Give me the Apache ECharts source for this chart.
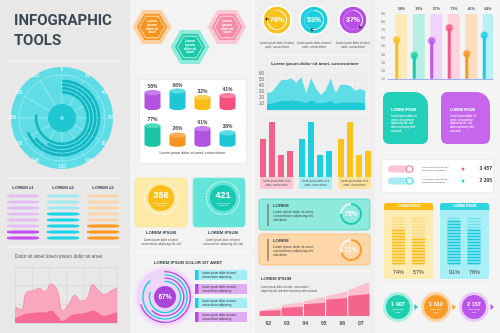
<!DOCTYPE html>
<html><head><meta charset="utf-8">
<script src="https://cdn.jsdelivr.net/npm/echarts@6/dist/echarts.min.js"></script>
<style>html,body{margin:0;padding:0;background:#efefef}#c{width:500px;height:333px}</style>
</head><body><div id="c"></div>
<script>
// ---------------- DATA ----------------
const polarAngleMax = 240;                         // angle axis 0..240 step 20
const polarArcValues = [185, 140, 155, 165];       // inner -> outer arcs
const rowLabels = ['LOREM #1', 'LOREM #2', 'LOREM #3'];
const rowTotal = 8;
const rowFilled = [2, 5, 3];
const pinkAreaTop = [29, 24, 55, 57, 61, 56, 69, 59, 22, 35, 49, 39, 44, 68, 56, 51, 57, 62];
const pinkAreaBottom = [8, 12, 16, 17, 18, 18, 21, 12, 3, 10, 15, 16, 18, 21, 16, 12, 15, 18];
const cylRow1 = [58, 66, 32, 41];
const cylRow2 = [77, 26, 61, 38];
const statValues = [356, 421];
const donutValue = 67;
const donutArcs = [80, 62, 88, 70];                // inner -> outer decorative arcs
const progressValues = [76, 53, 37];
const cyanAreaTop = [28, 30, 40, 50, 50, 53, 45, 55, 28, 53, 36, 25, 33, 53, 28, 42, 42, 40, 32, 35, 32];
const cyanAreaBottom = [10, 11, 13, 15, 15, 16, 15, 14, 11, 16, 12, 11, 12, 15, 10, 12, 13, 12, 12, 12, 11];
const cyanTicks = [10, 20, 30, 40, 50, 60];
const groupBars = [[38, 55, 22, 26], [38, 55, 22, 26], [38, 55, 22, 26]];
const cardPercents = [75, 71];
const rampLabels = ['02', '03', '04', '05', '06', '07'];
const rampLightLeft = [5.7, 10.7, 14.7, 19.7, 25.7];
const rampLightRight = [8, 14, 19, 24.7, 34];
const rampDarkLeft = [4.7, 8, 11.7, 16.3, 20];
const rampDarkRight = [5.7, 9.3, 13.3, 18, 22];
const lollipopValues = [58, 39, 57, 73, 41, 64];
const toggleValues = ['3 457', '2 305'];
const stackPercents = [[74, 57], [91, 78]];
const stepValues = ['1 407', '1 812', '2 157'];

// ---------------- HELPERS ----------------
const F = '"Liberation Sans", Arial, sans-serif';
const G = [];
function rect(x, y, w, h, fill, r, z, stroke) {
  G.push({type: 'rect', silent: true, z: z == null ? -10 : z, shape: {x, y, width: w, height: h, r: r || 0},
    style: {fill, stroke: stroke || null, lineWidth: stroke ? 0.7 : 0}});
}
function circ(cx, cy, r, style, z) { G.push({type: 'circle', silent: true, z: z == null ? -10 : z, shape: {cx, cy, r}, style}); }
function txt(x, y, text, size, fill, weight, align, font) {
  G.push({type: 'text', silent: true, z: 100, x, y,
    style: {text, fill, font: (weight || 'normal') + ' ' + size + 'px ' + (font || F), align: align || 'left', verticalAlign: 'middle'}});
}
function hline(x1, x2, y, c) { G.push({type: 'line', silent: true, z: -9, shape: {x1, y1: y, x2, y2: y}, style: {stroke: c || '#fafafa', lineWidth: 1}}); }
function hexPts(cx, cy, R) { const p = []; for (let k = 0; k < 6; k++) { const a = k * Math.PI / 3; p.push([cx + R * Math.cos(a), cy + R * Math.sin(a)]); } return p; }
function poly(points, style, z) { G.push({type: 'polygon', silent: true, z: z == null ? -10 : z, shape: {points}, style}); }

// ---------------- BACKGROUNDS ----------------
rect(0, 0, 130, 333, '#e8e8e8', 0, -20);
rect(130, 0, 125, 333, '#f3f3f3', 0, -20);
rect(255, 0, 120, 333, '#efefef', 0, -20);
rect(375, 0, 125, 333, '#f4f4f4', 0, -20);
hline(8, 122, 61); hline(8, 122, 178); hline(8, 122, 247);
hline(135, 250, 72); hline(135, 250, 168); hline(135, 250, 252);
hline(260, 370, 55); hline(260, 370, 114); hline(260, 370, 271);
hline(380, 495, 88); hline(380, 495, 152); hline(380, 495, 196); hline(380, 495, 287);

// ---------------- COLUMN 1 ----------------
txt(14, 21, 'INFOGRAPHIC', 15, '#3c4850', 'bold', 'left', 'Roboto');
txt(14, 41, 'TOOLS', 15, '#3c4850', 'bold', 'left', 'Roboto');
const PC = [62, 118];
circ(PC[0], PC[1], 51, {fill: '#5edde6'}, -10);
circ(PC[0], PC[1], 43, {fill: 'none', stroke: 'rgba(255,255,255,0.55)', lineWidth: 0.6}, -8);
circ(PC[0], PC[1], 14, {fill: '#1ec7d2'}, 10);
circ(PC[0], PC[1], 2, {fill: '#6ae8ef'}, 11);
rowLabels.forEach((l, i) => txt(23 + 40 * i, 188, l, 4.3, '#3c4850', 'bold', 'center'));
txt(15, 257, 'Dolor sit amet lorem ipsum dolor sit amet', 4.8, '#555');

// ---------------- COLUMN 2 ----------------
const hexes = [
  {c: [152, 27], outer: '#fdd0a0', inner: '#f7941d'},
  {c: [190, 47], outer: '#8feadc', inner: '#1cc9a9'},
  {c: [227, 27], outer: '#fdc8d6', inner: '#f589a6'}
];
hexes.forEach(h => {
  poly(hexPts(h.c[0], h.c[1], 19.5), {fill: h.outer});
  poly(hexPts(h.c[0], h.c[1], 15), {fill: h.inner});
  poly(hexPts(h.c[0], h.c[1], 12.5), {fill: 'none', stroke: '#fff', lineWidth: 0.7}, -9);
  ['Lorem', 'ipsum', 'dolor sit', 'amet'].forEach((t, k) => txt(h.c[0], h.c[1] - 5.4 + k * 3.6, t, 3.2, '#fff', 'bold', 'center'));
});
G.push({type: 'rect', silent: true, z: -12, shape: {x: 140, y: 80, width: 106, height: 83, r: 3}, style: {fill: '#fff', shadowBlur: 3, shadowColor: 'rgba(0,0,0,0.08)'}});
txt(192.5, 153, 'Lorem ipsum dolor sit amet, consectetuer', 3.6, '#444', 'normal', 'center');

const statCards = [
  {x: 135, bg: '#fdeaa9', st: '#fde196', dot: '#fbbf1a', c: [161, 198]},
  {x: 193, bg: '#62e4d8', st: '#7fe9de', dot: '#18c9b4', c: [223, 198]}
];
statCards.forEach((s, i) => {
  rect(s.x, 178, 52, 49, s.bg, 3, -10, s.st);
  circ(s.c[0], s.c[1], 16.5, {fill: 'none', stroke: 'rgba(255,255,255,0.9)', lineWidth: 1.2, lineDash: [0.8, 0.8]}, -9);
  circ(s.c[0], s.c[1], 13, {fill: s.dot}, -8);
  txt(s.c[0], s.c[1] - 2, String(statValues[i]), 9, '#fff', 'bold', 'center');
  txt(s.c[0], s.c[1] + 5, 'Lorem ipsum', 2.4, '#fff', 'normal', 'center');
  txt(s.c[0], s.c[1] + 7.6, 'dolor sit', 2.4, '#fff', 'normal', 'center');
  txt(s.c[0], 233, 'LOREM IPSUM', 4.3, '#3c4850', 'bold', 'center');
  txt(s.c[0], 240, 'Lorem ipsum dolor sit amet,', 2.8, '#555', 'normal', 'center');
  txt(s.c[0], 244, 'consectetuer adipiscing elit, sed', 2.8, '#555', 'normal', 'center');
});
txt(188, 263, 'LOREM IPSUM DOLOR SIT AMET', 4.3, '#3c4850', 'bold', 'center');
const DC = [165, 297];
circ(DC[0], DC[1], 31, {fill: '#f6e6fb'}, -11);
circ(DC[0], DC[1], 28.5, {fill: '#efd6f8'}, -10);
circ(DC[0], DC[1], 11, {fill: '#a746d8'}, 10);
txt(DC[0], DC[1], donutValue + '%', 6.5, '#fff', 'bold', 'center');
[{y: 275, l: '#a6eef5', d: '#1ccfe0'}, {y: 289, l: '#e0acf3', d: '#b44ee6'}, {y: 303, l: '#a6eef5', d: '#1ccfe0'}, {y: 317, l: '#e0acf3', d: '#b44ee6'}].forEach(b => {
  rect(195, b.y - 5, 52, 10, b.l, 0.5, -10);
  rect(195, b.y - 5, 3.5, 10, b.d, 0, -9);
  txt(202, b.y - 1.8, 'Lorem ipsum dolor sit amet,', 2.8, '#333');
  txt(202, b.y + 1.8, 'consectetuer adipiscing', 2.8, '#333');
});

// ---------------- COLUMN 3 ----------------
const progCenters = [[277, 20], [314, 20], [353, 20]];
const progColors = ['#fbc21a', '#1ccfe0', '#b94ee6'];
progCenters.forEach((c, i) => {
  circ(c[0], c[1], 15, {fill: '#fff'}, -10);
  circ(c[0], c[1], 13.3, {fill: progColors[i]}, -9);
  txt(c[0], 43, 'Lorem ipsum dolor sit amet,', 2.8, '#555', 'normal', 'center');
  txt(c[0], 47, 'amet, consectetuer', 2.8, '#555', 'normal', 'center');
});
txt(315, 64, 'Lorem ipsum dolor sit amet, consectetuer', 4.4, '#333', 'bold', 'center');
[{x: 260, bg: '#fbc7d4'}, {x: 299, bg: '#a8eef5'}, {x: 338, bg: '#fde3a0'}].forEach(g => {
  rect(g.x, 177, 33, 12, g.bg, 0, -10);
  txt(g.x + 16.5, 181, 'Lorem ipsum dolor sit at', 2.6, '#555', 'normal', 'center');
  txt(g.x + 16.5, 185, 'amet, consectetuer', 2.6, '#555', 'normal', 'center');
});
const cards = [{y: 199, bg: '#8fe9dd', st: '#44d6c4', c: [351, 214]}, {y: 234, bg: '#fdd7a8', st: '#fbb66a', c: [351, 250]}];
cards.forEach(cd => {
  rect(259, cd.y, 111, 31, cd.bg, 3, -10, cd.st);
  rect(267.5, cd.y + 5, 1, 22, '#555', 0, -9);
  txt(273, cd.y + 7, 'LOREM', 4.3, '#3c4850', 'bold');
  txt(273, cd.y + 13, 'Lorem ipsum dolor sit amet,', 3.3, '#444');
  txt(273, cd.y + 17, 'consectetuer adipiscing elit,', 3.3, '#444');
  txt(273, cd.y + 21, 'sed diam', 3.3, '#444');
});
txt(261, 279, 'LOREM IPSUM', 4.3, '#3c4850', 'bold');
txt(261, 287, 'Lorem ipsum dolor sit amet, consectetuer', 2.6, '#555');
txt(261, 291, 'adipiscing elit, sed diam nonummy nibh euismod', 2.6, '#555');

// ---------------- COLUMN 4 ----------------
G.push({type: 'rect', silent: true, z: -10, shape: {x: 383, y: 92, width: 45, height: 52, r: [6, 14, 6, 6]}, style: {fill: '#22d0b9'}});
G.push({type: 'rect', silent: true, z: -10, shape: {x: 441, y: 92, width: 49, height: 52, r: [6, 14, 6, 6]}, style: {fill: '#c566ec'}});
[[391, 'LOREM IPSUM'], [450, 'LOREM IPSUM']].forEach(a => {
  txt(a[0], 110, a[1], 3.6, '#fff', 'bold');
  ['Lorem ipsum dolor sit', 'amet, consectetuer', 'adipiscing elit, sed', 'diam nonummy nibh', 'euismod'].forEach((t, k) => txt(a[0], 116 + k * 3.8, t, 2.7, '#fff'));
});
G.push({type: 'rect', silent: true, z: -12, shape: {x: 382, y: 160, width: 111, height: 32, r: 3}, style: {fill: '#fff', shadowBlur: 3, shadowColor: 'rgba(0,0,0,0.08)'}});
[{y: 169, l: '#fbc6d4', d: '#f5608a'}, {y: 181, l: '#a8ecf3', d: '#1cd0e0'}].forEach((t, i) => {
  rect(388, t.y - 3.5, 26, 7, t.l, 3.5, -9);
  circ(409.5, t.y, 3.2, {fill: '#fff', stroke: t.d, lineWidth: 0.8}, -8);
  txt(422, t.y - 1.4, 'Lorem ipsum dolor sit amet', 2.2, '#555');
  txt(422, t.y + 1.4, 'consectetuer adipiscing', 2.2, '#555');
  circ(463, t.y, 1.5, {fill: t.d}, -8);
  txt(492, t.y, toggleValues[i], 5, '#333', 'bold', 'right');
});
[{x: 384, head: '#fbbd15', body: '#fdebb4'}, {x: 440, head: '#2fd3e2', body: '#a9eff6'}].forEach((c, i) => {
  G.push({type: 'rect', silent: true, z: -10, shape: {x: c.x, y: 203, width: 49, height: 76, r: 2.5}, style: {fill: c.body}});
  G.push({type: 'rect', silent: true, z: -9, shape: {x: c.x, y: 203, width: 49, height: 7, r: [2.5, 2.5, 0, 0]}, style: {fill: c.head}});
  txt(c.x + 24.5, 206.5, 'LOREM IPSUM', 3.3, '#fff', 'bold', 'center');
  stackPercents[i].forEach((p, k) => txt(c.x + 14.5 + 20 * k, 272, p + '%', 5.5, '#444', 'normal', 'center'));
});
const stepColors = [{o: '#aaefe2', i: '#1ecfae'}, {o: '#fdd3a3', i: '#fb9a26'}, {o: '#eccaf8', i: '#b955e8'}];
stepValues.forEach((v, i) => {
  const cx = 398 + 38 * i, cy = 307;
  circ(cx, cy, 15, {fill: stepColors[i].o}, -10);
  circ(cx, cy, 12, {fill: stepColors[i].i}, -9);
  txt(cx, cy - 2.5, v, 5.5, '#fff', 'bold', 'center');
  txt(cx, cy + 2.8, 'Lorem ipsum', 2, '#fff', 'normal', 'center');
  txt(cx, cy + 5, 'dolor', 2, '#fff', 'normal', 'center');
  poly([[cx + 16.5, cy - 3], [cx + 16.5, cy + 3], [cx + 20, cy]], {fill: stepColors[i].i}, -9);
});

// ---------------- AXES / SERIES ----------------
const hid = (o) => Object.assign({show: false}, o);
const colRowLight = ['#e6bcf5', '#9fe9ef', '#fdd3aa'];
const colRowDark = ['#c54ff0', '#1cd5e5', '#fb9a1c'];
const cylColors1 = [['#b252e0', '#c77cec'], ['#1ec6d6', '#5edbe6'], ['#fbbb15', '#fcd055'], ['#f5507e', '#f7819f']];
const cylColors2 = [['#1ac4a4', '#4fd8bd'], ['#f7931e', '#f9b058'], ['#b252e0', '#c77cec'], ['#1ec6d6', '#5edbe6']];
const groupColors = ['#f5608a', '#1fcfe0', '#fcc419'];
const lolBg = ['#fdeab8', '#b7efe5', '#efd3fa', '#fdd3de', '#fddcbf', '#b8f0f6'];
const lolFg = ['#fbbf1a', '#1ccaa8', '#c054ec', '#f5588a', '#fb961e', '#1ccde0'];
const lolRGB = ['251,191,26', '28,202,168', '192,84,236', '245,88,138', '251,150,30', '28,205,224'];
const stackLight = ['#fbdb82', '#74e2ee'];
const stackDark = ['#fbbd15', '#1cc9dc'];

function cylinderSeries(xi, vals, colors) {
  return {
    type: 'custom', xAxisIndex: xi, yAxisIndex: xi, silent: true,
    data: vals.map((v, i) => [i, v]),
    renderItem(params, api) {
      const i = api.value(0), v = api.value(1);
      const top = api.coord([i, v]);
      const bot = api.coord([i, -25]);
      const w = 16, ry = 2.6, x = top[0];
      const c = colors[i];
      return {type: 'group', children: [
        {type: 'rect', shape: {x: x - w / 2, y: top[1], width: w, height: bot[1] - top[1]}, style: {fill: c[0]}},
        {type: 'ellipse', shape: {cx: x, cy: bot[1], rx: w / 2, ry}, style: {fill: c[0]}},
        {type: 'ellipse', shape: {cx: x, cy: top[1], rx: w / 2, ry}, style: {fill: c[1]}},
        {type: 'text', x, y: top[1] - ry - 0.8, style: {text: v + '%', fill: '#444', font: 'bold 5px ' + F, align: 'center', verticalAlign: 'bottom'}}
      ]};
    }
  };
}
function gauge(c, r, val, o) {
  return {
    type: 'gauge', center: c, radius: r, startAngle: 90, endAngle: -270, min: 0, max: 100, silent: true,
    axisLine: {lineStyle: {width: o.w, color: [[1, o.track]]}},
    progress: {show: true, width: o.w, itemStyle: {color: o.color}},
    pointer: o.dot ? {show: true, icon: 'circle', length: 3, width: 3, offsetCenter: [0, -r + 1.5], itemStyle: {color: '#333'}} : {show: false},
    axisTick: {show: false}, splitLine: {show: false}, axisLabel: {show: false}, anchor: {show: false}, title: {show: false},
    detail: {show: true, offsetCenter: [0, 0], formatter: '{value}%', color: '#fff', fontSize: o.fs, fontWeight: 'bold', fontFamily: 'Liberation Sans'},
    data: [{value: val}]
  };
}

const option = {
  animation: false,
  backgroundColor: '#efefef',
  graphic: {elements: G},
  polar: [
    {center: PC, radius: [0, 43]},
    {center: PC, radius: [24, 39]},
    {center: DC, radius: [14, 27]}
  ],
  angleAxis: [
    {polarIndex: 0, type: 'value', min: 0, max: polarAngleMax, interval: 20, startAngle: 90, clockwise: true,
      axisLine: {show: false}, axisTick: {show: false},
      splitLine: {show: true, lineStyle: {color: 'rgba(255,255,255,0.6)', width: 0.6}},
      axisLabel: {color: '#fff', fontSize: 4.5, margin: 3, fontFamily: 'Liberation Sans'}},
    {polarIndex: 1, type: 'value', min: 0, max: polarAngleMax, startAngle: 90, show: false},
    {polarIndex: 2, type: 'value', min: 0, max: 100, startAngle: 90, show: false}
  ],
  radiusAxis: [
    {polarIndex: 0, type: 'value', min: 0, max: 1, show: false},
    {polarIndex: 1, type: 'category', data: ['a', 'b', 'c', 'd'], show: false},
    {polarIndex: 2, type: 'category', data: ['a', 'b', 'c', 'd'], show: false}
  ],
  grid: [
    {left: 3, top: 193, width: 120, height: 48},
    {left: 15, top: 267, width: 102, height: 56},
    {left: 140, top: 89.5, width: 100, height: 18},
    {left: 140, top: 121.7, width: 100, height: 22.5},
    {left: 267, top: 74, width: 98, height: 36},
    {left: 258.5, top: 122, width: 36, height: 55},
    {left: 297.5, top: 122, width: 36, height: 55},
    {left: 336.5, top: 122, width: 36, height: 55},
    {left: 259, top: 280, width: 111, height: 36},
    {left: 388, top: 14, width: 105, height: 65},
    {left: 388.5, top: 217, width: 40, height: 48},
    {left: 444, top: 217, width: 40, height: 48}
  ],
  xAxis: [
    hid({gridIndex: 0, type: 'category', data: rowLabels}),
    {gridIndex: 1, type: 'value', min: 0, max: 17, interval: 17 / 6, axisLabel: {show: false}, axisLine: {show: false}, axisTick: {show: false},
      splitLine: {show: true, lineStyle: {color: '#d3d3d3', width: 0.6}}},
    hid({gridIndex: 2, type: 'category', data: ['a', 'b', 'c', 'd']}),
    hid({gridIndex: 3, type: 'category', data: ['a', 'b', 'c', 'd']}),
    {gridIndex: 4, type: 'category', boundaryGap: false, data: cyanAreaTop.map((v, i) => i), axisLabel: {show: false}, axisLine: {show: false}, axisTick: {show: false},
      splitLine: {show: true, interval: 1, lineStyle: {color: '#e3e3e3', width: 0.5}}},
    hid({gridIndex: 5, type: 'category', data: ['a', 'b', 'c', 'd']}),
    hid({gridIndex: 6, type: 'category', data: ['a', 'b', 'c', 'd']}),
    hid({gridIndex: 7, type: 'category', data: ['a', 'b', 'c', 'd']}),
    hid({gridIndex: 8, type: 'category', position: 'top', data: rampLightLeft.map((v, i) => i)}),
    {gridIndex: 8, type: 'category', position: 'bottom', data: rampLabels, axisLine: {show: false}, axisTick: {show: false},
      axisLabel: {interval: 0, fontSize: 5, color: '#444', fontWeight: 'bold', margin: 5, fontFamily: 'Liberation Sans'}},
    {gridIndex: 9, type: 'category', data: lollipopValues.map((v, i) => i), axisLabel: {show: false}, axisTick: {show: false},
      axisLine: {show: true, lineStyle: {color: '#9fb0f2', width: 1}}},
    hid({gridIndex: 10, type: 'category', data: ['a', 'b']}),
    hid({gridIndex: 11, type: 'category', data: ['a', 'b']})
  ],
  yAxis: [
    hid({gridIndex: 0, type: 'value', min: 0, max: rowTotal}),
    {gridIndex: 1, type: 'value', min: 0, max: 99, interval: 33, axisLabel: {show: false}, axisLine: {show: false}, axisTick: {show: false},
      splitLine: {show: true, lineStyle: {color: '#d3d3d3', width: 0.6}}},
    hid({gridIndex: 2, type: 'value', min: -25, max: 75}),
    hid({gridIndex: 3, type: 'value', min: -25, max: 100}),
    {gridIndex: 4, type: 'value', min: 0, max: 60, interval: 10, axisLine: {show: false}, axisTick: {show: false},
      axisLabel: {fontSize: 4.5, color: '#666', margin: 3, fontFamily: 'Liberation Sans', formatter: v => cyanTicks.includes(v) ? String(v) : ''},
      splitLine: {show: true, lineStyle: {color: '#e3e3e3', width: 0.5}}},
    hid({gridIndex: 5, type: 'value', min: 0, max: 55}),
    hid({gridIndex: 6, type: 'value', min: 0, max: 55}),
    hid({gridIndex: 7, type: 'value', min: 0, max: 55}),
    hid({gridIndex: 8, type: 'value', min: 0, max: 36}),
    {gridIndex: 9, type: 'value', min: 10, max: 90, interval: 10, axisLine: {show: false}, axisTick: {show: false}, splitLine: {show: false},
      axisLabel: {fontSize: 3.5, color: '#777', margin: 3, fontFamily: 'Liberation Sans'}},
    hid({gridIndex: 10, type: 'value', min: 0, max: 16}),
    hid({gridIndex: 11, type: 'value', min: 0, max: 16})
  ],
  series: [
    // polar arcs
    {type: 'bar', coordinateSystem: 'polar', polarIndex: 1, data: polarArcValues, barWidth: 2.6, roundCap: false,
      itemStyle: {color: '#13b6c1'}, silent: true},
    // col1 rows
    {type: 'pictorialBar', xAxisIndex: 0, yAxisIndex: 0, symbol: 'roundRect', symbolSize: [32, 3], symbolRepeat: true, symbolMargin: '1.5!',
      barWidth: 32, barGap: '-100%', silent: true, z: 2,
      data: rowLabels.map((l, i) => ({value: rowTotal, itemStyle: {color: colRowLight[i]}}))},
    {type: 'pictorialBar', xAxisIndex: 0, yAxisIndex: 0, symbol: 'roundRect', symbolSize: [32, 3], symbolRepeat: true, symbolMargin: '1.5!',
      barWidth: 32, barGap: '-100%', silent: true, z: 3,
      data: rowFilled.map((v, i) => ({value: v, itemStyle: {color: colRowDark[i]}}))},
    // col1 pink area
    {type: 'line', xAxisIndex: 1, yAxisIndex: 1, smooth: 0.5, symbol: 'none', silent: true,
      data: pinkAreaTop.map((v, i) => [i, v]), lineStyle: {width: 0.8, color: '#f58cab'}, areaStyle: {color: '#f9a7bf', opacity: 1}},
    {type: 'line', xAxisIndex: 1, yAxisIndex: 1, smooth: 0.5, symbol: 'none', silent: true,
      data: pinkAreaBottom.map((v, i) => [i, v]), lineStyle: {width: 0.6, color: '#f5608a'}, areaStyle: {color: '#f66b93', opacity: 1}},
    // cylinders
    cylinderSeries(2, cylRow1, cylColors1),
    cylinderSeries(3, cylRow2, cylColors2),
    // col3 cyan area
    {type: 'line', xAxisIndex: 4, yAxisIndex: 4, symbol: 'none', silent: true, data: cyanAreaTop,
      lineStyle: {width: 0}, areaStyle: {color: '#5edde6', opacity: 1}},
    {type: 'line', xAxisIndex: 4, yAxisIndex: 4, symbol: 'none', silent: true, data: cyanAreaBottom,
      lineStyle: {width: 0}, areaStyle: {color: '#1fc9d6', opacity: 1}},
    // bar groups
    ...groupBars.map((vals, g) => ({type: 'bar', xAxisIndex: 5 + g, yAxisIndex: 5 + g, data: vals, barWidth: 6, silent: true,
      itemStyle: {color: groupColors[g]}})),
    // ramp
    {type: 'custom', xAxisIndex: 8, yAxisIndex: 8, silent: true,
      data: rampLightLeft.map((v, i) => [i, v, rampLightRight[i], rampDarkLeft[i], rampDarkRight[i]]),
      renderItem(params, api) {
        const i = api.value(0);
        const bw = api.size([1, 0])[0];
        const c = api.coord([i, 0]);
        const l = c[0] - bw / 2 + 0.6, r = c[0] + bw / 2 - 0.6;
        const y = v => api.coord([i, v])[1];
        return {type: 'group', children: [
          {type: 'polygon', shape: {points: [[l, c[1]], [l, y(api.value(1))], [r, y(api.value(2))], [r, c[1]]]}, style: {fill: '#fbbfcd'}},
          {type: 'polygon', shape: {points: [[l, c[1]], [l, y(api.value(3))], [r, y(api.value(4))], [r, c[1]]]}, style: {fill: '#f5648c'}}
        ]};
      }},
    // lollipop
    {type: 'bar', xAxisIndex: 10, yAxisIndex: 9, barWidth: 12, barGap: '-100%', silent: true,
      data: lollipopValues.map((v, i) => ({value: 92, itemStyle: {color: lolBg[i]}})),
      label: {show: true, position: 'top', distance: 3, fontSize: 3.6, color: '#555', fontWeight: 'bold', fontFamily: 'Liberation Sans',
        formatter: p => lollipopValues[p.dataIndex] + '%'}},
    {type: 'bar', xAxisIndex: 10, yAxisIndex: 9, barWidth: 3, barGap: '-100%', silent: true, z: 3,
      data: lollipopValues.map((v, i) => ({value: v, itemStyle: {color: lolFg[i], borderRadius: 1.5}}))},
    {type: 'scatter', xAxisIndex: 10, yAxisIndex: 9, symbolSize: 6.5, silent: true, z: 4,
      data: lollipopValues.map((v, i) => ({value: [i, v], itemStyle: {color: lolFg[i], borderColor: 'rgba(' + lolRGB[i] + ',0.35)', borderWidth: 2.2}}))},
    // stacks
    ...[0, 1].map(c => ({type: 'pictorialBar', xAxisIndex: 11 + c, yAxisIndex: 10 + c, symbol: 'rect', symbolSize: [13, 1.6], symbolRepeat: true,
      symbolMargin: '0.7!', barWidth: 13, barGap: '-100%', silent: true, z: 2,
      data: stackPercents[c].map(() => ({value: 16, itemStyle: {color: stackLight[c]}}))})),
    ...[0, 1].map(c => ({type: 'pictorialBar', xAxisIndex: 11 + c, yAxisIndex: 10 + c, symbol: 'rect', symbolSize: [13, 1.6], symbolRepeat: true,
      symbolMargin: '0.7!', barWidth: 13, barGap: '-100%', silent: true, z: 3,
      data: stackPercents[c].map(p => ({value: Math.round(p / 100 * 16), itemStyle: {color: stackDark[c]}}))})),
    // donut arcs
    {type: 'bar', coordinateSystem: 'polar', polarIndex: 2, barWidth: 1.4, silent: true, roundCap: true,
      data: donutArcs.map((v, i) => ({value: v, itemStyle: {color: i % 2 ? '#b44ee6' : '#1ccfe0'}}))},
    // gauges
    ...progressValues.map((v, i) => gauge(progCenters[i], 10, v, {w: 0.8, track: 'rgba(255,255,255,0.35)', color: '#fff', dot: true, fs: 7})),
    ...cardPercents.map((v, i) => gauge(cards[i].c, 11, v, {w: 2, track: 'rgba(255,255,255,0.7)', color: i ? '#fb9a26' : '#19cdb5', dot: false, fs: 6.5}))
  ]
};
const chart = echarts.init(document.getElementById('c'), null, {width: 500, height: 333});
chart.setOption(option);
</script></body></html>
